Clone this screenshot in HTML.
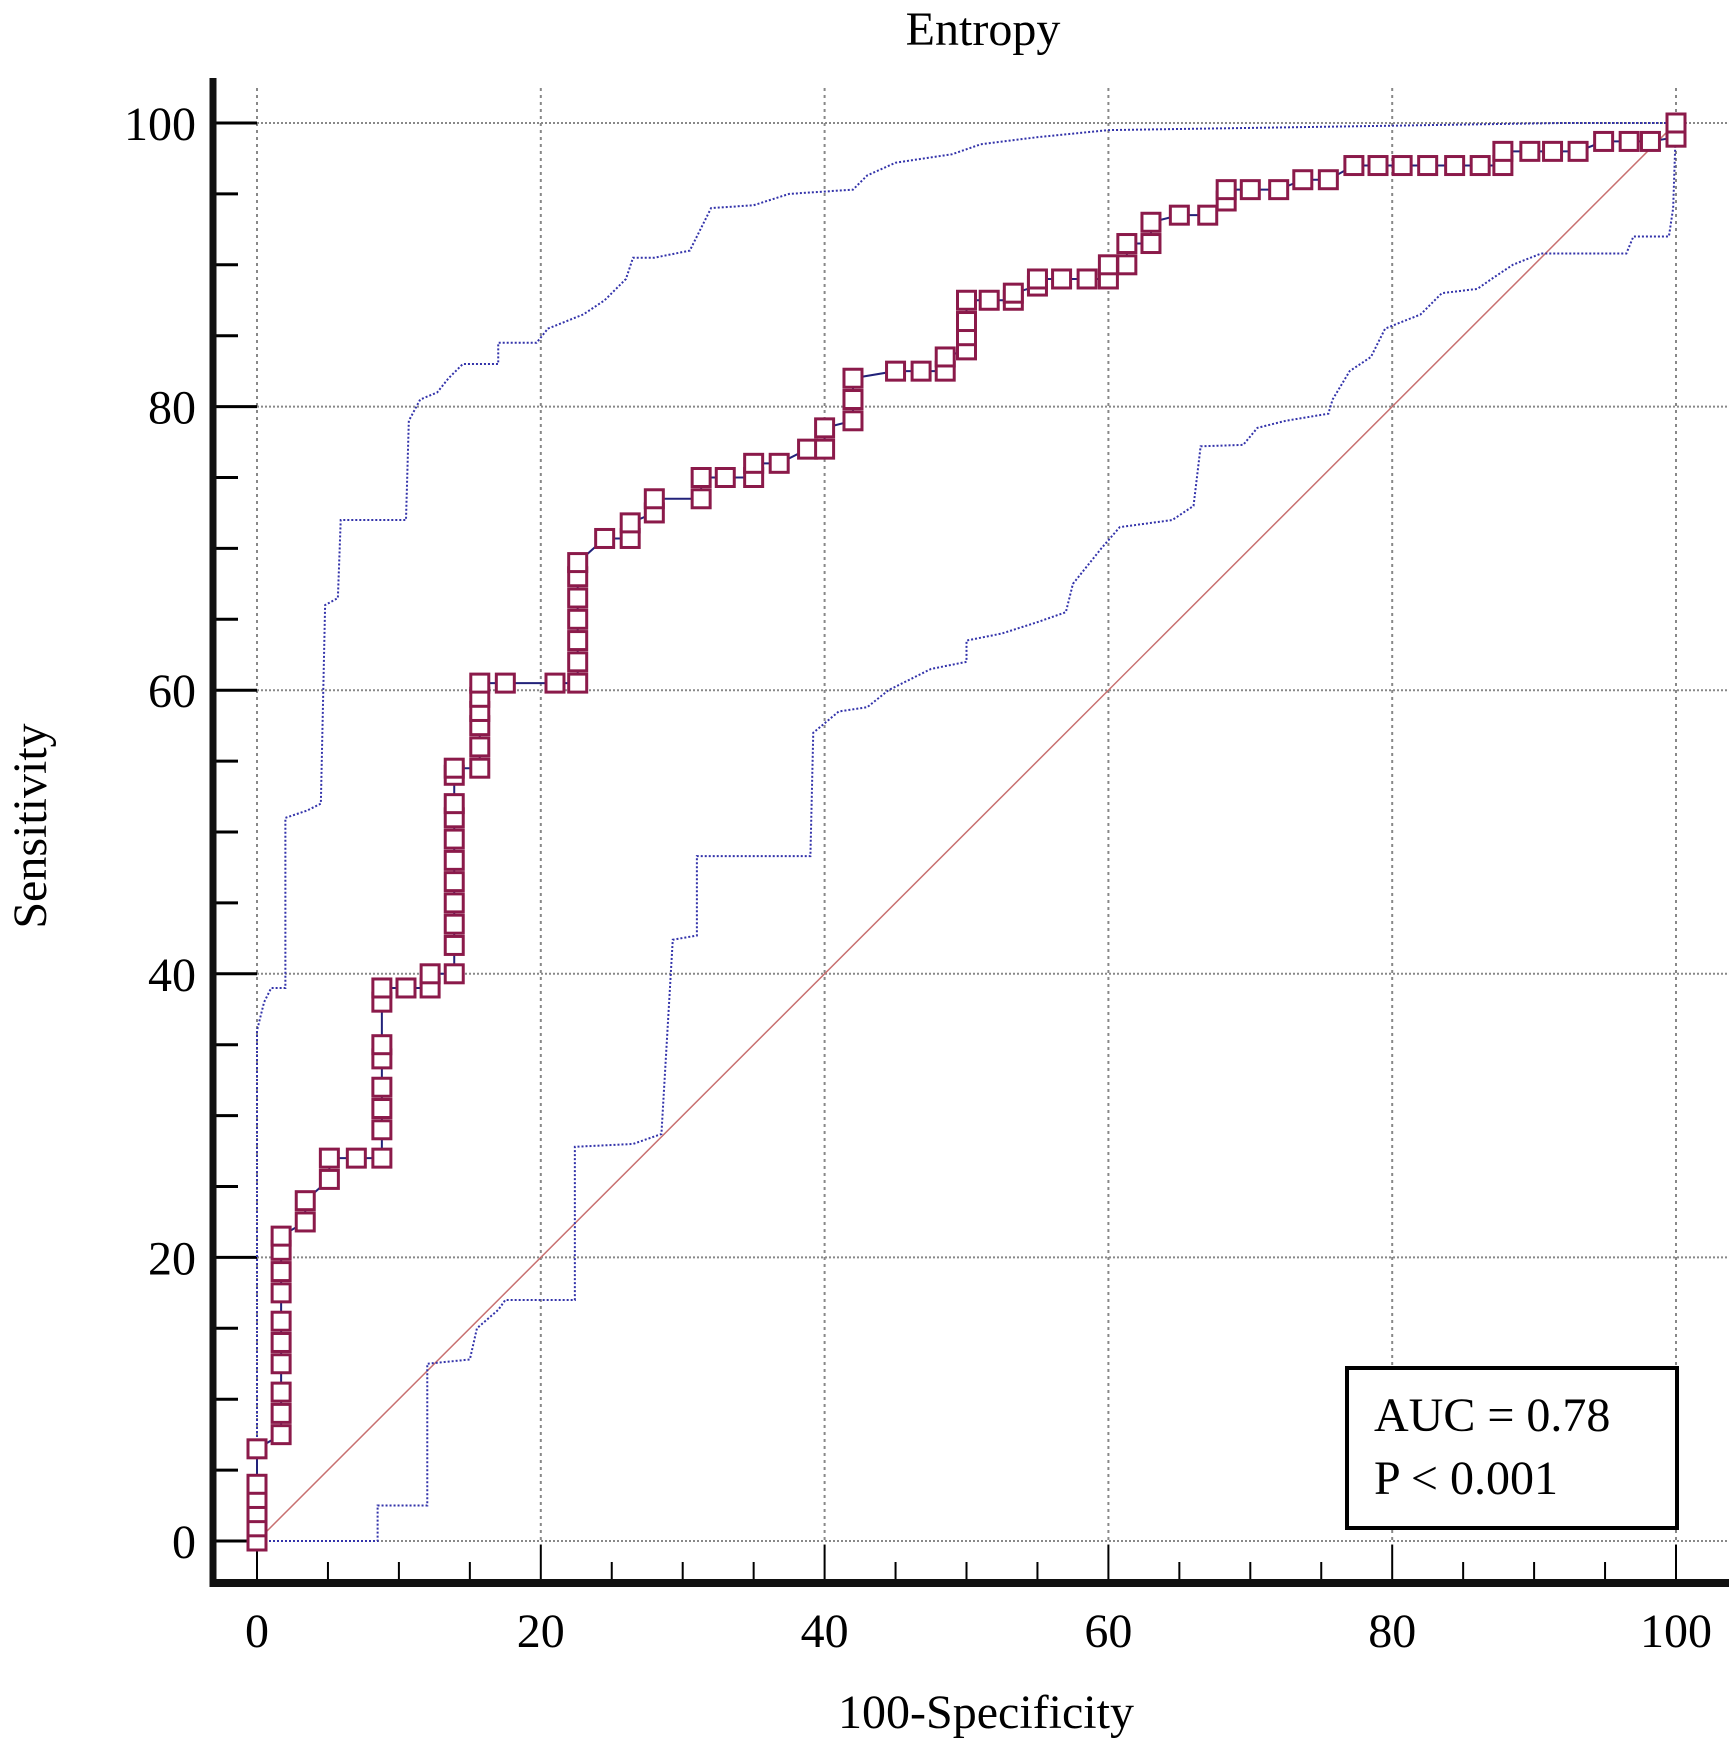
<!DOCTYPE html>
<html><head><meta charset="utf-8"><style>
html,body{margin:0;padding:0;background:#fff;}
svg{display:block;font-family:"Liberation Serif",serif;}
</style></head><body>
<svg id="chart" width="1732" height="1747" viewBox="0 0 1732 1747" xmlns="http://www.w3.org/2000/svg">
<g id="grid"></g>
<g id="axes"></g>
<g id="series"></g>
<text x="983" y="45" font-size="48" text-anchor="middle">Entropy</text>
<text x="986" y="1728" font-size="48" text-anchor="middle">100-Specificity</text>
<text transform="translate(46,826) rotate(-90)" font-size="48" text-anchor="middle">Sensitivity</text>
<g>
<rect x="1347" y="1368" width="330" height="160" fill="#fff" stroke="#000" stroke-width="4"/>
<text x="1374" y="1431" font-size="48">AUC = 0.78</text>
<text x="1374" y="1494" font-size="48">P &lt; 0.001</text>
</g>
</svg>
<script>
const xTicks=[0,20,40,60,80,100];
const yTicks=[0,20,40,60,80,100];
const rocX=[0,0,0,0,0,0,1.7,1.7,1.7,1.7,1.7,1.7,1.7,1.7,1.7,1.7,3.4,3.4,5.1,5.1,7,8.8,8.8,8.8,8.8,8.8,8.8,8.8,8.8,10.5,12.2,12.2,13.9,13.9,13.9,13.9,13.9,13.9,13.9,13.9,13.9,13.9,13.9,15.7,15.7,15.7,15.7,15.7,15.7,17.5,21,22.6,22.6,22.6,22.6,22.6,22.6,22.6,24.5,26.3,26.3,28,28,31.3,31.3,33,35,35,36.8,38.8,40,40,42,42,42,45,46.8,48.5,48.5,50,50,50,50,51.6,53.3,53.3,55,55,56.7,58.5,60,60,61.3,61.3,63,63,65,67,68.3,68.3,70,72,73.7,75.5,77.3,79,80.7,82.5,84.4,86.2,87.8,87.8,89.7,91.3,93.1,94.9,96.7,98.2,100,100];
const rocY=[0,1,2,3,4,6.5,7.5,9,10.5,12.5,14,15.5,17.5,19,20.5,21.5,22.5,24,25.5,27,27,27,29,30.5,32,34,35,38,39,39,39,40,40,42,43.5,45,46.5,48,49.5,51,52,54,54.5,54.5,56,57.5,58.5,59.5,60.5,60.5,60.5,60.5,62,63.5,65,66.5,68,69,70.7,70.7,71.8,72.5,73.5,73.5,75,75,75,76,76,77,77,78.5,79,80.5,82,82.5,82.5,82.5,83.5,84,85,86,87.5,87.5,87.5,88,88.5,89,89,89,89,90,90,91.5,91.5,93,93.5,93.5,94.5,95.3,95.3,95.3,96,96,97,97,97,97,97,97,97,98,98,98,98,98.7,98.7,98.7,99,100];
const upX=[0,0,0.5,1,2,2,3.5,4.5,4.8,5.7,5.9,10.5,10.7,11.5,12.7,13.5,14.5,17,17,19.7,20.5,23,24.5,26,26.5,28,30.5,32,35,37.5,42,43,45,49,51,55,60,73,92,100];
const upY=[0,36,38,39,39,51,51.5,52,66,66.5,72,72,79,80.5,81,82,83,83,84.5,84.5,85.5,86.5,87.5,89,90.5,90.5,91,94,94.2,95,95.3,96.3,97.2,97.8,98.5,99,99.5,99.7,100,100];
const loX=[0,8.5,8.5,12,12,15,15.5,17,17.5,22.4,22.4,26.5,28.5,29.3,31,31,39,39.2,41,43,44.5,47.5,50,50,52.5,55,57,57.5,59.5,60.8,64.5,66,66.5,69.5,70.5,72.5,75.5,75.8,77,78.5,79.5,82,83.5,86,87,88.5,90.5,96.5,97,99.5,99.8,100];
const loY=[0,0,2.5,2.5,12.5,12.8,15,16.3,17,17,27.8,28,28.7,42.4,42.7,48.3,48.3,57,58.5,58.8,60,61.5,62,63.5,64,64.8,65.5,67.5,70,71.5,72,73,77.2,77.3,78.5,79,79.5,80.5,82.5,83.5,85.5,86.5,88,88.3,89,90,90.8,90.8,92,92,94,100];

const X0=257,X1=1676,Y0=1541,Y1=123;
const sx=v=>X0+(X1-X0)*v/100;
const sy=v=>Y0-(Y0-Y1)*v/100;
const NS="http://www.w3.org/2000/svg";
function mk(tag,attrs,parent){const e=document.createElementNS(NS,tag);for(const k in attrs)e.setAttribute(k,attrs[k]);parent.appendChild(e);return e;}
const grid=document.getElementById('grid'),axes=document.getElementById('axes'),series=document.getElementById('series');

xTicks.forEach(t=>{
  const l=mk('line',{x1:sx(t),x2:sx(t),y1:88,y2:1545,stroke:'#888','stroke-width':2,'stroke-dasharray':'3,4'},grid);
  
  
  const tx=mk('text',{x:sx(t),y:1647,'font-size':48,'text-anchor':'middle'},axes);
  tx.textContent=t;
  
  
});
yTicks.forEach(t=>{
  const l=mk('line',{x1:sx(0),x2:1729,y1:sy(t),y2:sy(t),stroke:'#888','stroke-width':2,'stroke-dasharray':'2,2'},grid);
  
  
  const tx=mk('text',{x:196,y:sy(t)+17,'font-size':48,'text-anchor':'end'},axes);
  tx.textContent=t;
  
  
});
for(let v=0;v<=100;v+=5){
  const major=v%20===0;
  const a=mk('line',{x1:sx(v),x2:sx(v),y1:major?1545:1562,y2:1581,stroke:'#000','stroke-width':2},axes);
  
  
  const b=mk('line',{x1:215,x2:major?sx(0):238,y1:sy(v),y2:sy(v),stroke:'#000','stroke-width':3},axes);
  
  
}
const ya=mk('line',{x1:213,x2:213,y1:78,y2:1587,stroke:'#111','stroke-width':7},axes);


const xa=mk('line',{x1:210,x2:1729,y1:1583,y2:1583,stroke:'#111','stroke-width':8},axes);



const diag=mk('line',{x1:sx(0),y1:sy(0),x2:sx(100),y2:sy(100),stroke:'#c87070','stroke-width':1.5},series);


function poly(xs,ys,attrs,name){
  const p=mk('polyline',Object.assign({points:xs.map((x,i)=>sx(x)+','+sy(ys[i])).join(' '),fill:'none'},attrs),series);
  
  
}
poly(upX,upY,{stroke:'#3333aa','stroke-width':2,'stroke-dasharray':'2,2'},'upper-ci-line');
poly(loX,loY,{stroke:'#3333aa','stroke-width':2,'stroke-dasharray':'2,2'},'lower-ci-line');
poly(rocX,rocY,{stroke:'#22227a','stroke-width':2},'roc-curve');
rocX.forEach((x,i)=>{
  const r=mk('rect',{x:sx(x)-9,y:sy(rocY[i])-9,width:18,height:18,fill:'#fff',stroke:'#8b1a4a','stroke-width':3},series);
  
  
});
</script>
</body></html>
